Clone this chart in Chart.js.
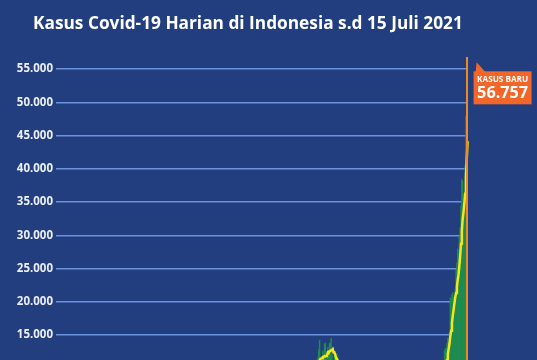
<!DOCTYPE html>
<html>
<head>
<meta charset="utf-8">
<script src="https://cdn.jsdelivr.net/npm/chart.js@4.4.1/dist/chart.umd.min.js"></script>
<style>
  html, body { margin: 0; padding: 0; overflow: hidden; background: #233e7e; }
  #wrap { width: 537px; height: 445px; }
</style>
</head>
<body>
<div id="wrap"><canvas id="chart"></canvas></div>
<script>
const titleText = 'Kasus Covid-19 Harian di Indonesia s.d 15 Juli 2021';
const calloutLabel = 'KASUS BARU';
const startDate = '2020-03-02';

// kasus harian per bulan
const mar20 = [2,0,0,0,2,0,2,13,8,7,0,35,27,21,17,38,55,82,60,81,64,65,107,104,103,153,109,130,129,114];
const apr20 = [149,113,196,106,181,218,247,218,337,219,330,399,316,282,297,380,407,325,327,185,375,283,357,436,396,275,214,415,260,347];
const may20 = [433,292,349,395,484,367,338,336,533,387,233,484,689,568,490,529,489,496,486,693,973,634,949,526,479,415,686,687,678,700,467];
const jun20 = [609,609,684,585,703,993,672,847,1043,1241,979,1111,1014,857,1017,1106,1031,1331,1041,1226,862,954,1051,1113,1178,1385,1385,1198,1082,1293];
const jul20 = [1385,1624,1301,1447,1607,1209,1268,1853,2657,1611,1671,1681,1282,1591,1522,1574,1462,1752,1639,1693,1655,1882,2051,1761,1868,1492,1525,1748,2381,1904,2040];
const aug20 = [1560,1519,1679,1922,1815,1882,2473,2277,1893,1687,1693,1942,2098,2307,2345,2081,1821,1673,1902,2266,2197,2037,1877,2090,2447,2306,2719,3003,3308,2858,2743];
const sep20 = [2775,3075,3622,3269,3128,3444,2880,3046,3307,3861,3737,3806,3636,3141,3507,3963,3635,3891,4168,3989,4176,4071,4465,4634,4823,4494,3874,3509,4002,4284];
const oct20 = [4174,4317,4007,3992,3622,4056,4538,4850,4094,4294,4497,3267,3906,4127,4411,4301,4301,3373,3373,3602,4267,4432,4369,4070,3732,3222,3520,3904,2897,2617,3143];
const nov20 = [2696,2618,2973,3356,4065,4262,4007,3880,2853,3779,4173,5444,5444,5272,4106,3535,3807,4265,4798,4792,4998,4360,4442,4192,5534,4917,5828,5418,6267,4617];
const dec20 = [5092,5533,8369,5803,6027,6089,5754,5292,6058,6033,6310,6388,6189,5489,6120,6625,7354,6689,6725,6848,6309,6347,7514,6664,7259,5854,6528,5854,7903,8002,8074];
const jan21 = [8072,6753,6877,7045,7445,8854,9321,10617,10046,9640,8692,10047,11278,11557,12818,14224,11287,9086,10365,12568,11703,13632,13788,11788,9994,13094,11948,13695,13802,14518,12001];
const feb21 = [10994,9713,11984,11434,10453,12156,11749,8242,8700,8776,8435,9869,8844,6765,6462,10029,9687,9039,9163,7300,10180,7888,6454,9775,8493,8232,6208,5560];
const mar21 = [6680,5712,6808,6825,7264,6614,5267,4502,5633,5926,5144,4885,5606,5311,4356,5685,6279,6570,5852,4955,4402,4092,4981,5227,5639,5416,4874,4732,4105,5912,5773];
const apr21 = [6093,4001,4395,3653,3854,5325,5464,6142,4953,5073,4127,3556,6051,6177,5656,4952,5241,4693,4269,5549,5720,5612,6201,5708,5285,3600,4656,5241,5265,5444];
const may21 = [4592,4369,3738,5285,4929,6825,6130,5314,3977,3922,4891,4608,3448,2385,2633,3080,3158,4800,5797,5746,5296,5694,4546,3762,4993,5391,5797,4970,5283,4737,5082];
const jun21 = [4824,5560,5353,6486,6594,5832,6993,6294,7725,8892,8083,8161,9868,8189,8161,9944,12624,12990,12906,13737,14536,13668,15308,20574,18872,21095,21342,20694,20467,21807];
const jul21 = [24836,25830,27913,27233,29745,31189,34379,38391,38124,35094,36197,40427,47899,54517,56757];

// rata-rata 7 hari (mingguan di luar puncak, harian di sekitar puncak)
const avgWeekly2020 = [
  ['2020-03-08', 1], ['2020-03-15', 16], ['2020-03-22', 57], ['2020-03-29', 110], ['2020-04-05', 141],
  ['2020-04-12', 281], ['2020-04-19', 333], ['2020-04-26', 330], ['2020-05-03', 330], ['2020-05-10', 406],
  ['2020-05-17', 497], ['2020-05-24', 680], ['2020-05-31', 587], ['2020-06-07', 694], ['2020-06-14', 1013],
  ['2020-06-21', 1088], ['2020-06-28', 1181], ['2020-07-05', 1391], ['2020-07-12', 1707], ['2020-07-19', 1546],
  ['2020-07-26', 1772], ['2020-08-02', 1811], ['2020-08-09', 1992], ['2020-08-16', 2022], ['2020-08-23', 1968],
  ['2020-08-30', 2676], ['2020-09-06', 3151], ['2020-09-13', 3468], ['2020-09-20', 3756], ['2020-09-27', 4362],
  ['2020-10-04', 4041], ['2020-10-11', 4279], ['2020-10-18', 3955], ['2020-10-25', 3978], ['2020-11-01', 3143],
  ['2020-11-08', 3594], ['2020-11-15', 4439], ['2020-11-22', 4365], ['2020-11-29', 5228], ['2020-12-06', 5933],
  ['2020-12-13', 6003], ['2020-12-20', 6550], ['2020-12-27', 6639], ['2021-01-03', 7362], ['2021-01-10', 8995]
];
const avgWave1Start = '2021-01-11';
const avgWave1 = [9231,9602,9949,10268,10583,11179,11415,11471,11516,11701,11722,11838,11776,11847,11977,12367,12278,12563,12587,12691,12722,
  12865,12382,12387,12064,11585,11248,11212,10819,10674,10216,9787,9704,9231,8519];
const avgWeekly2021 = [
  ['2021-02-21', 8837], ['2021-02-28', 7516], ['2021-03-07', 6453], ['2021-03-14', 5287], ['2021-03-21', 5443],
  ['2021-03-28', 4994], ['2021-04-04', 4847], ['2021-04-11', 4991], ['2021-04-18', 5189], ['2021-04-25', 5478],
  ['2021-05-02', 4738], ['2021-05-09', 5171], ['2021-05-16', 3567], ['2021-05-23', 5005], ['2021-05-30', 4990],
  ['2021-06-06', 5676]
];
const avgWave2Start = '2021-06-07';
const avgWave2 = [5949,6159,6468,6974,7202,7426,8002,8173,8440,8757,9290,9991,10669,11222,12128,12915,13681,14817,15657,16827,17914,18793,19765,20693,
  21302,22296,23270,24111,25404,26936,28732,30669,32425,33451,34731,36257,38644,41521,44145];

const yTicks = [15000, 20000, 25000, 30000, 35000, 40000, 45000, 50000, 55000];

const dailyCases = [].concat(mar20, apr20, may20, jun20, jul20, aug20, sep20, oct20, nov20, dec20,
  jan21, feb21, mar21, apr21, may21, jun21, jul21);

const labels = [];
const t0 = new Date(startDate + 'T00:00:00Z').getTime();
for (let i = 0; i < dailyCases.length; i++) {
  labels.push(new Date(t0 + i * 86400000).toISOString().slice(0, 10));
}

const avgPoints = [];
avgWeekly2020.forEach(p => avgPoints.push({ x: p[0], y: p[1] }));
avgWave1.forEach((v, i) => avgPoints.push({ x: labels[labels.indexOf(avgWave1Start) + i], y: v }));
avgWeekly2021.forEach(p => avgPoints.push({ x: p[0], y: p[1] }));
avgWave2.forEach((v, i) => avgPoints.push({ x: labels[labels.indexOf(avgWave2Start) + i], y: v }));

const last = dailyCases.length - 1;
const fmt = v => String(Math.round(v)).replace(/\B(?=(\d{3})+(?!\d))/g, '.');

const calloutColor = '#f2662a';

// set font so the text fills the given width
function fitFont(ctx, text, width, base) {
  ctx.font = 'bold ' + base + 'px "Open Sans"';
  const w = ctx.measureText(text).width;
  ctx.font = 'bold ' + (base * width / w).toFixed(2) + 'px "Open Sans"';
}

const titlePlugin = {
  id: 'titleText',
  afterDraw(chart) {
    const ctx = chart.ctx;
    ctx.save();
    ctx.fillStyle = '#ffffff';
    ctx.textBaseline = 'alphabetic';
    fitFont(ctx, titleText, 430, 18);
    ctx.fillText(titleText, 33, 29);
    ctx.restore();
  }
};

const calloutPlugin = {
  id: 'callout',
  afterDatasetsDraw(chart) {
    const { ctx, scales: { x, y } } = chart;
    const px = x.getPixelForValue(last);
    const py = y.getPixelForValue(dailyCases[last]);
    const left = px + 6, top = py + 14, w = 58, h = 33;
    ctx.save();
    ctx.fillStyle = calloutColor;
    ctx.beginPath();
    ctx.moveTo(left + 2, top + 1);
    ctx.lineTo(left + 3, py + 5);
    ctx.lineTo(left + 12, top + 1);
    ctx.closePath();
    ctx.fill();
    ctx.fillRect(left, top, w, h);
    ctx.fillStyle = '#ffffff';
    ctx.textAlign = 'center';
    ctx.textBaseline = 'middle';
    fitFont(ctx, calloutLabel, 51, 9);
    ctx.fillText(calloutLabel, left + w / 2, top + 8);
    fitFont(ctx, fmt(dailyCases[last]), 51, 17);
    ctx.fillText(fmt(dailyCases[last]), left + w / 2, top + 22);
    ctx.restore();
  }
};

new Chart(document.getElementById('chart').getContext('2d'), {
  type: 'bar',
  data: {
    labels: labels,
    datasets: [
      {
        type: 'bar',
        data: [{ x: labels[last], y: dailyCases[last] }],
        backgroundColor: '#ef8a25',
        barThickness: 2.5,
        grouped: false,
        order: 0
      },
      {
        type: 'line',
        data: avgPoints,
        borderColor: '#f3e61e',
        borderWidth: 2.5,
        pointRadius: 0,
        fill: false,
        order: 1
      },
      {
        type: 'bar',
        data: dailyCases,
        backgroundColor: '#1f8c50',
        barPercentage: 1,
        categoryPercentage: 1,
        grouped: false,
        order: 2
      }
    ]
  },
  options: {
    responsive: true,
    maintainAspectRatio: false,
    animation: false,
    layout: { padding: { top: 55.7, bottom: 10.25, left: 0, right: 69 } },
    plugins: { legend: { display: false }, tooltip: { enabled: false }, title: { display: false } },
    scales: {
      x: { display: false },
      y: {
        min: 0,
        max: 57000,
        afterFit: s => { s.width = 56; },
        afterBuildTicks: s => { s.ticks = [0].concat(yTicks).map(v => ({ value: v })); },
        border: { display: false },
        grid: { color: 'rgba(112,152,228,0.95)', lineWidth: 1.5, drawTicks: false },
        ticks: {
          padding: 3,
          color: '#e9eef8',
          font: { family: 'Open Sans', size: 11.5, weight: '700' },
          callback: v => fmt(v)
        }
      }
    }
  },
  plugins: [titlePlugin, calloutPlugin]
});
</script>
</body>
</html>
